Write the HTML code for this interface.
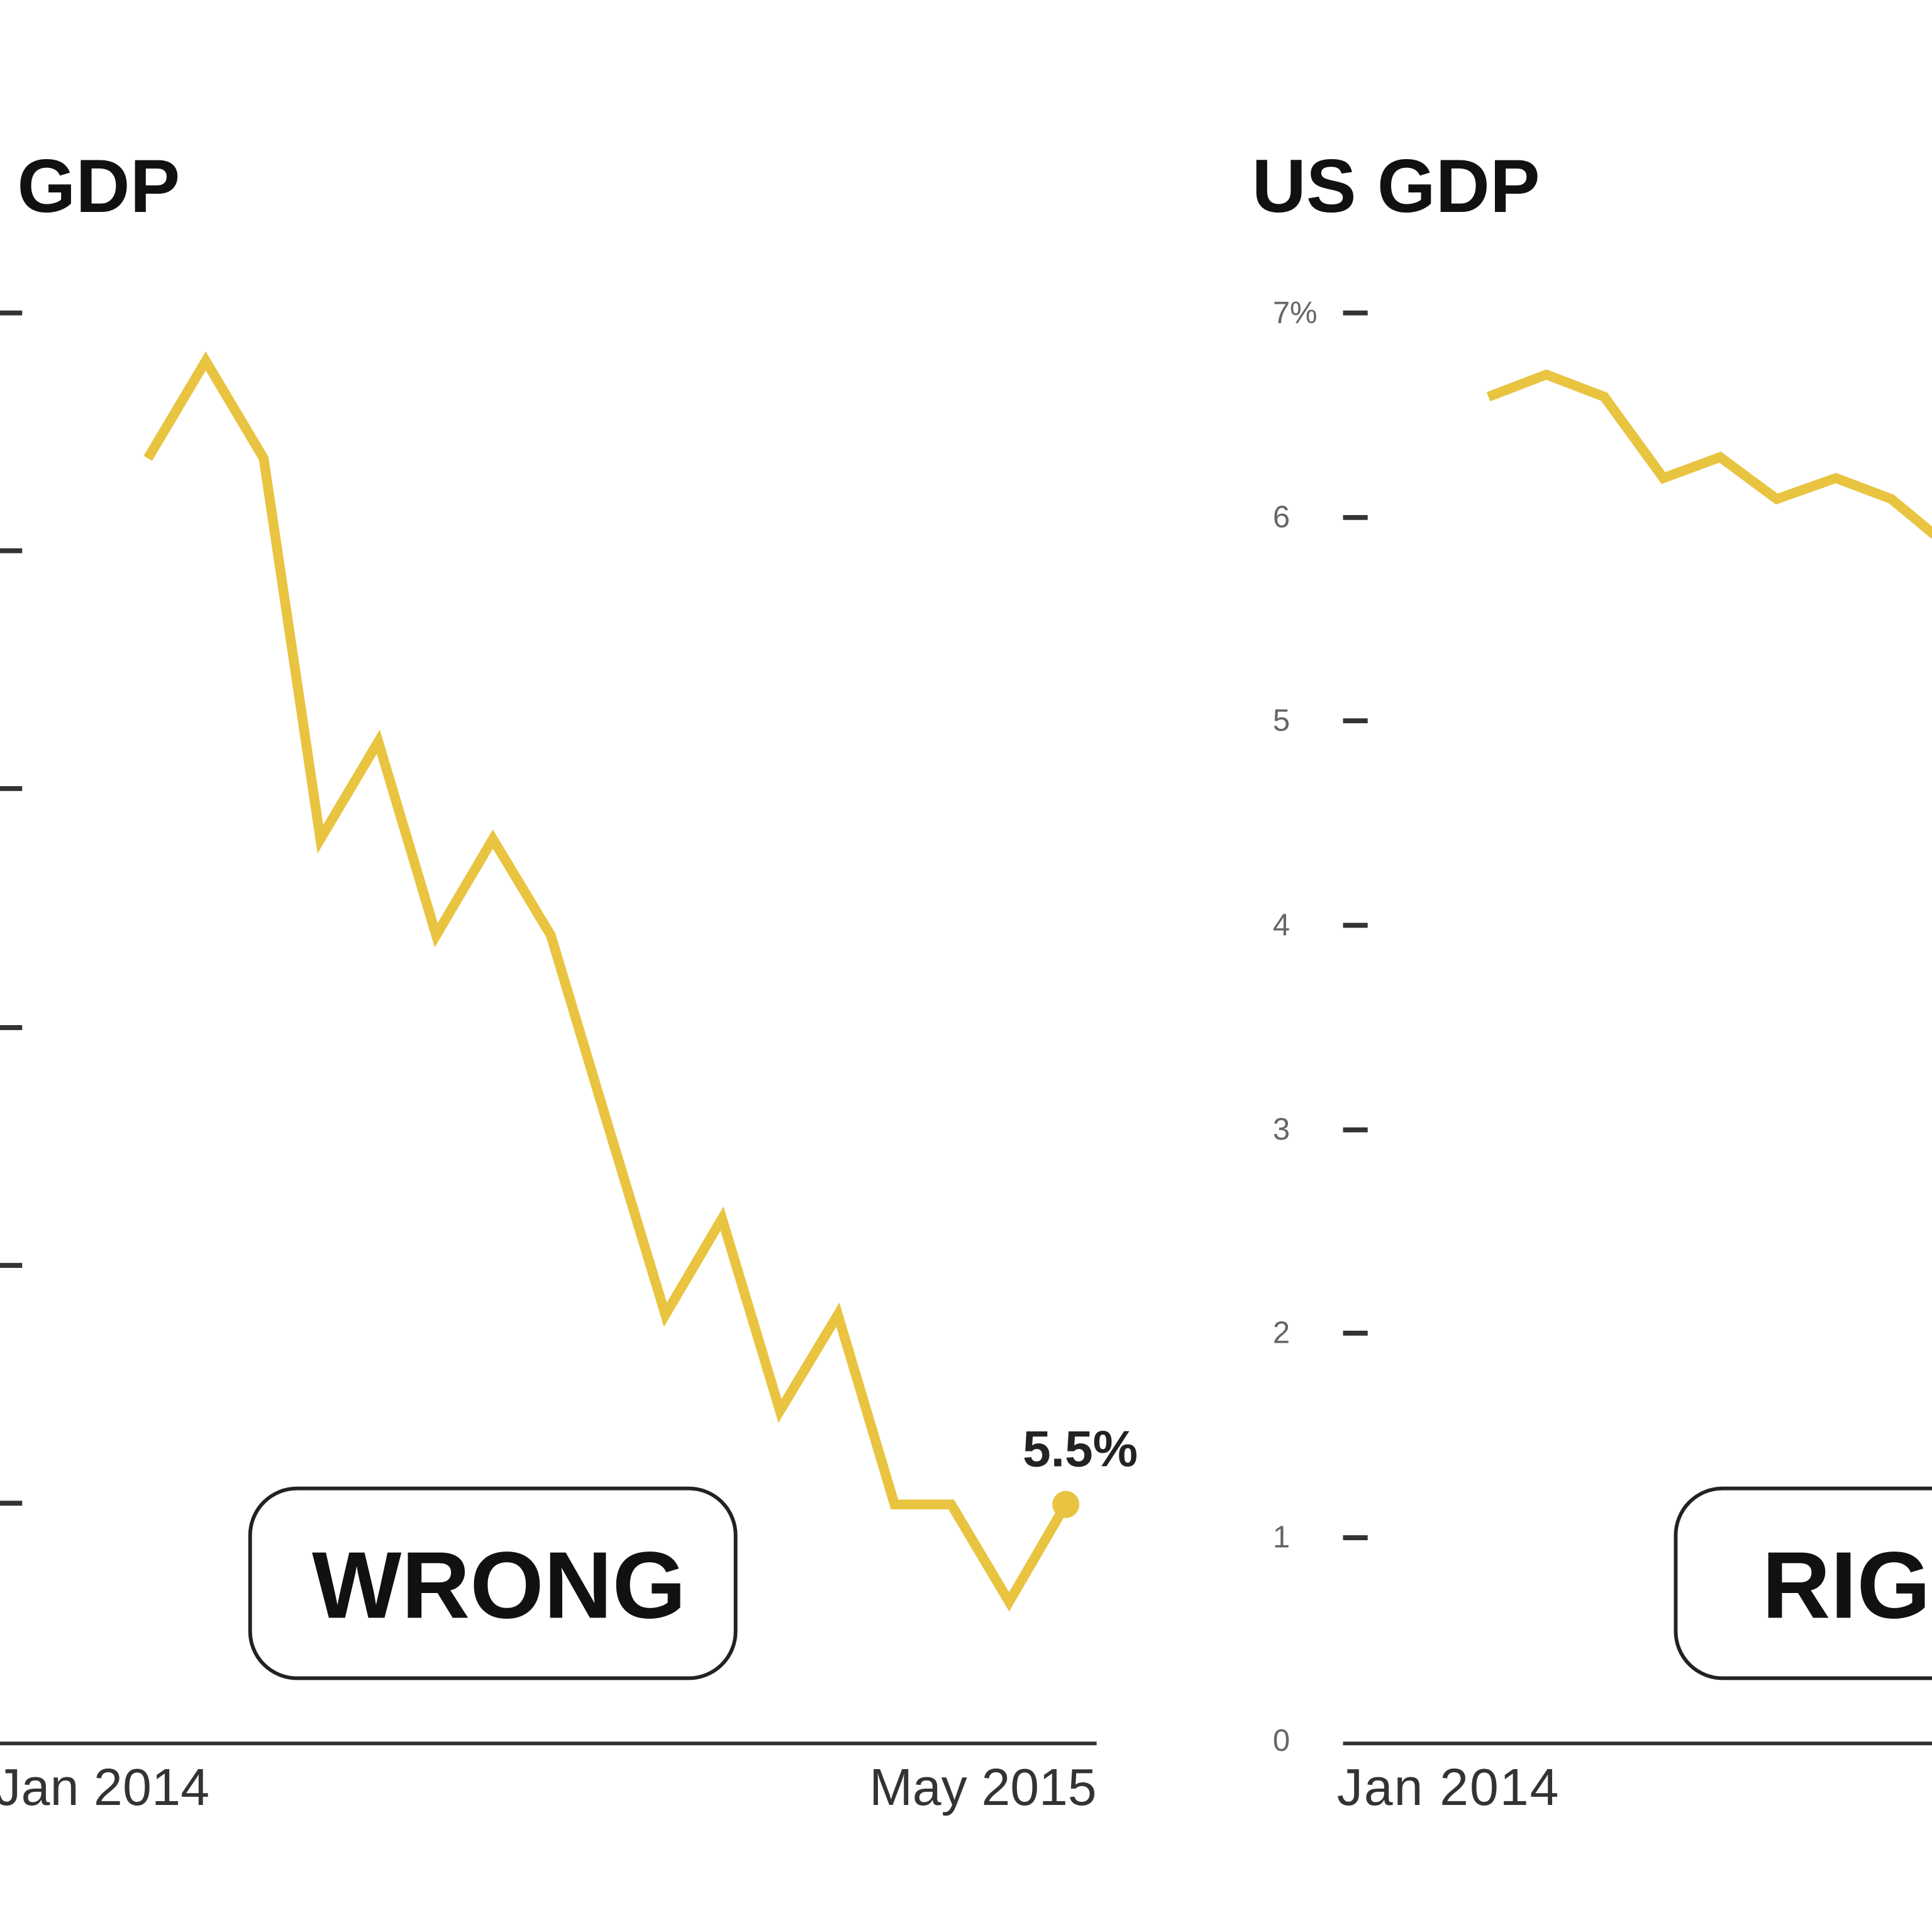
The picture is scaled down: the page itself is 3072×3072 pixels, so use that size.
<!DOCTYPE html>
<html><head><meta charset="utf-8"><style>
html,body{margin:0;padding:0;background:#fff;width:3072px;height:3072px;overflow:hidden}
svg{display:block}
text{font-family:"Liberation Sans",sans-serif}
</style></head><body>
<svg width="3072" height="3072" viewBox="0 0 1568 1568" xmlns="http://www.w3.org/2000/svg">
<rect width="1568" height="1568" fill="#fff"/>
<!-- Left chart -->
<text x="14" y="172" font-size="61" font-weight="bold" fill="#111">GDP</text>
<g stroke="#333" stroke-width="4">
<line x1="0" y1="254" x2="18" y2="254"/><line x1="0" y1="447" x2="18" y2="447"/>
<line x1="0" y1="640" x2="18" y2="640"/><line x1="0" y1="834" x2="18" y2="834"/>
<line x1="0" y1="1027" x2="18" y2="1027"/><line x1="0" y1="1220" x2="18" y2="1220"/>
<line x1="0" y1="1415" x2="890" y2="1415" stroke-width="3"/>
</g>
<text x="-4" y="1465" font-size="42" fill="#333" textLength="174">Jan 2014</text>
<text x="890" y="1465" font-size="42" fill="#333" text-anchor="end">May 2015</text>
<polyline fill="none" stroke="#e8c440" stroke-width="8" points="120,372 167,293 214,372 260,681 307,602 354,759 400,681 447,759 493,912 540,1067 586,989 633,1145 680,1067 726,1221 772,1221 819,1300 865,1221"/>
<circle cx="865" cy="1221" r="11" fill="#e8c440"/>
<text x="830" y="1190" font-size="41" font-weight="bold" fill="#222">5.5%</text>
<rect x="203" y="1208" width="394" height="154" rx="38" fill="#fff" stroke="#222" stroke-width="3"/>
<text x="405" y="1313" font-size="77" font-weight="bold" fill="#111" text-anchor="middle">WRONG</text>
<!-- Right chart -->
<text x="1016" y="172" font-size="61" font-weight="bold" fill="#111">US GDP</text>
<g font-size="25" fill="#666">
<text x="1033" y="262">7%</text><text x="1033" y="428">6</text><text x="1033" y="593">5</text>
<text x="1033" y="759">4</text><text x="1033" y="925">3</text><text x="1033" y="1090">2</text>
<text x="1033" y="1256">1</text><text x="1033" y="1421">0</text>
</g>
<g stroke="#333" stroke-width="4">
<line x1="1090" y1="254" x2="1110" y2="254"/><line x1="1090" y1="420" x2="1110" y2="420"/>
<line x1="1090" y1="585" x2="1110" y2="585"/><line x1="1090" y1="751" x2="1110" y2="751"/>
<line x1="1090" y1="917" x2="1110" y2="917"/><line x1="1090" y1="1082" x2="1110" y2="1082"/>
<line x1="1090" y1="1248" x2="1110" y2="1248"/>
<line x1="1090" y1="1415" x2="1568" y2="1415" stroke-width="3"/>
</g>
<text x="1085" y="1465" font-size="42" fill="#333" textLength="180">Jan 2014</text>
<polyline fill="none" stroke="#e8c440" stroke-width="8" points="1208,322 1255,304 1302,322 1350,388 1396,371 1442,405 1490,388 1535,405 1570,434"/>
<rect x="1360" y="1208" width="300" height="154" rx="38" fill="#fff" stroke="#222" stroke-width="3"/>
<text x="1430" y="1313" font-size="77" font-weight="bold" fill="#111">RIGHT</text>
</svg>
</body></html>
